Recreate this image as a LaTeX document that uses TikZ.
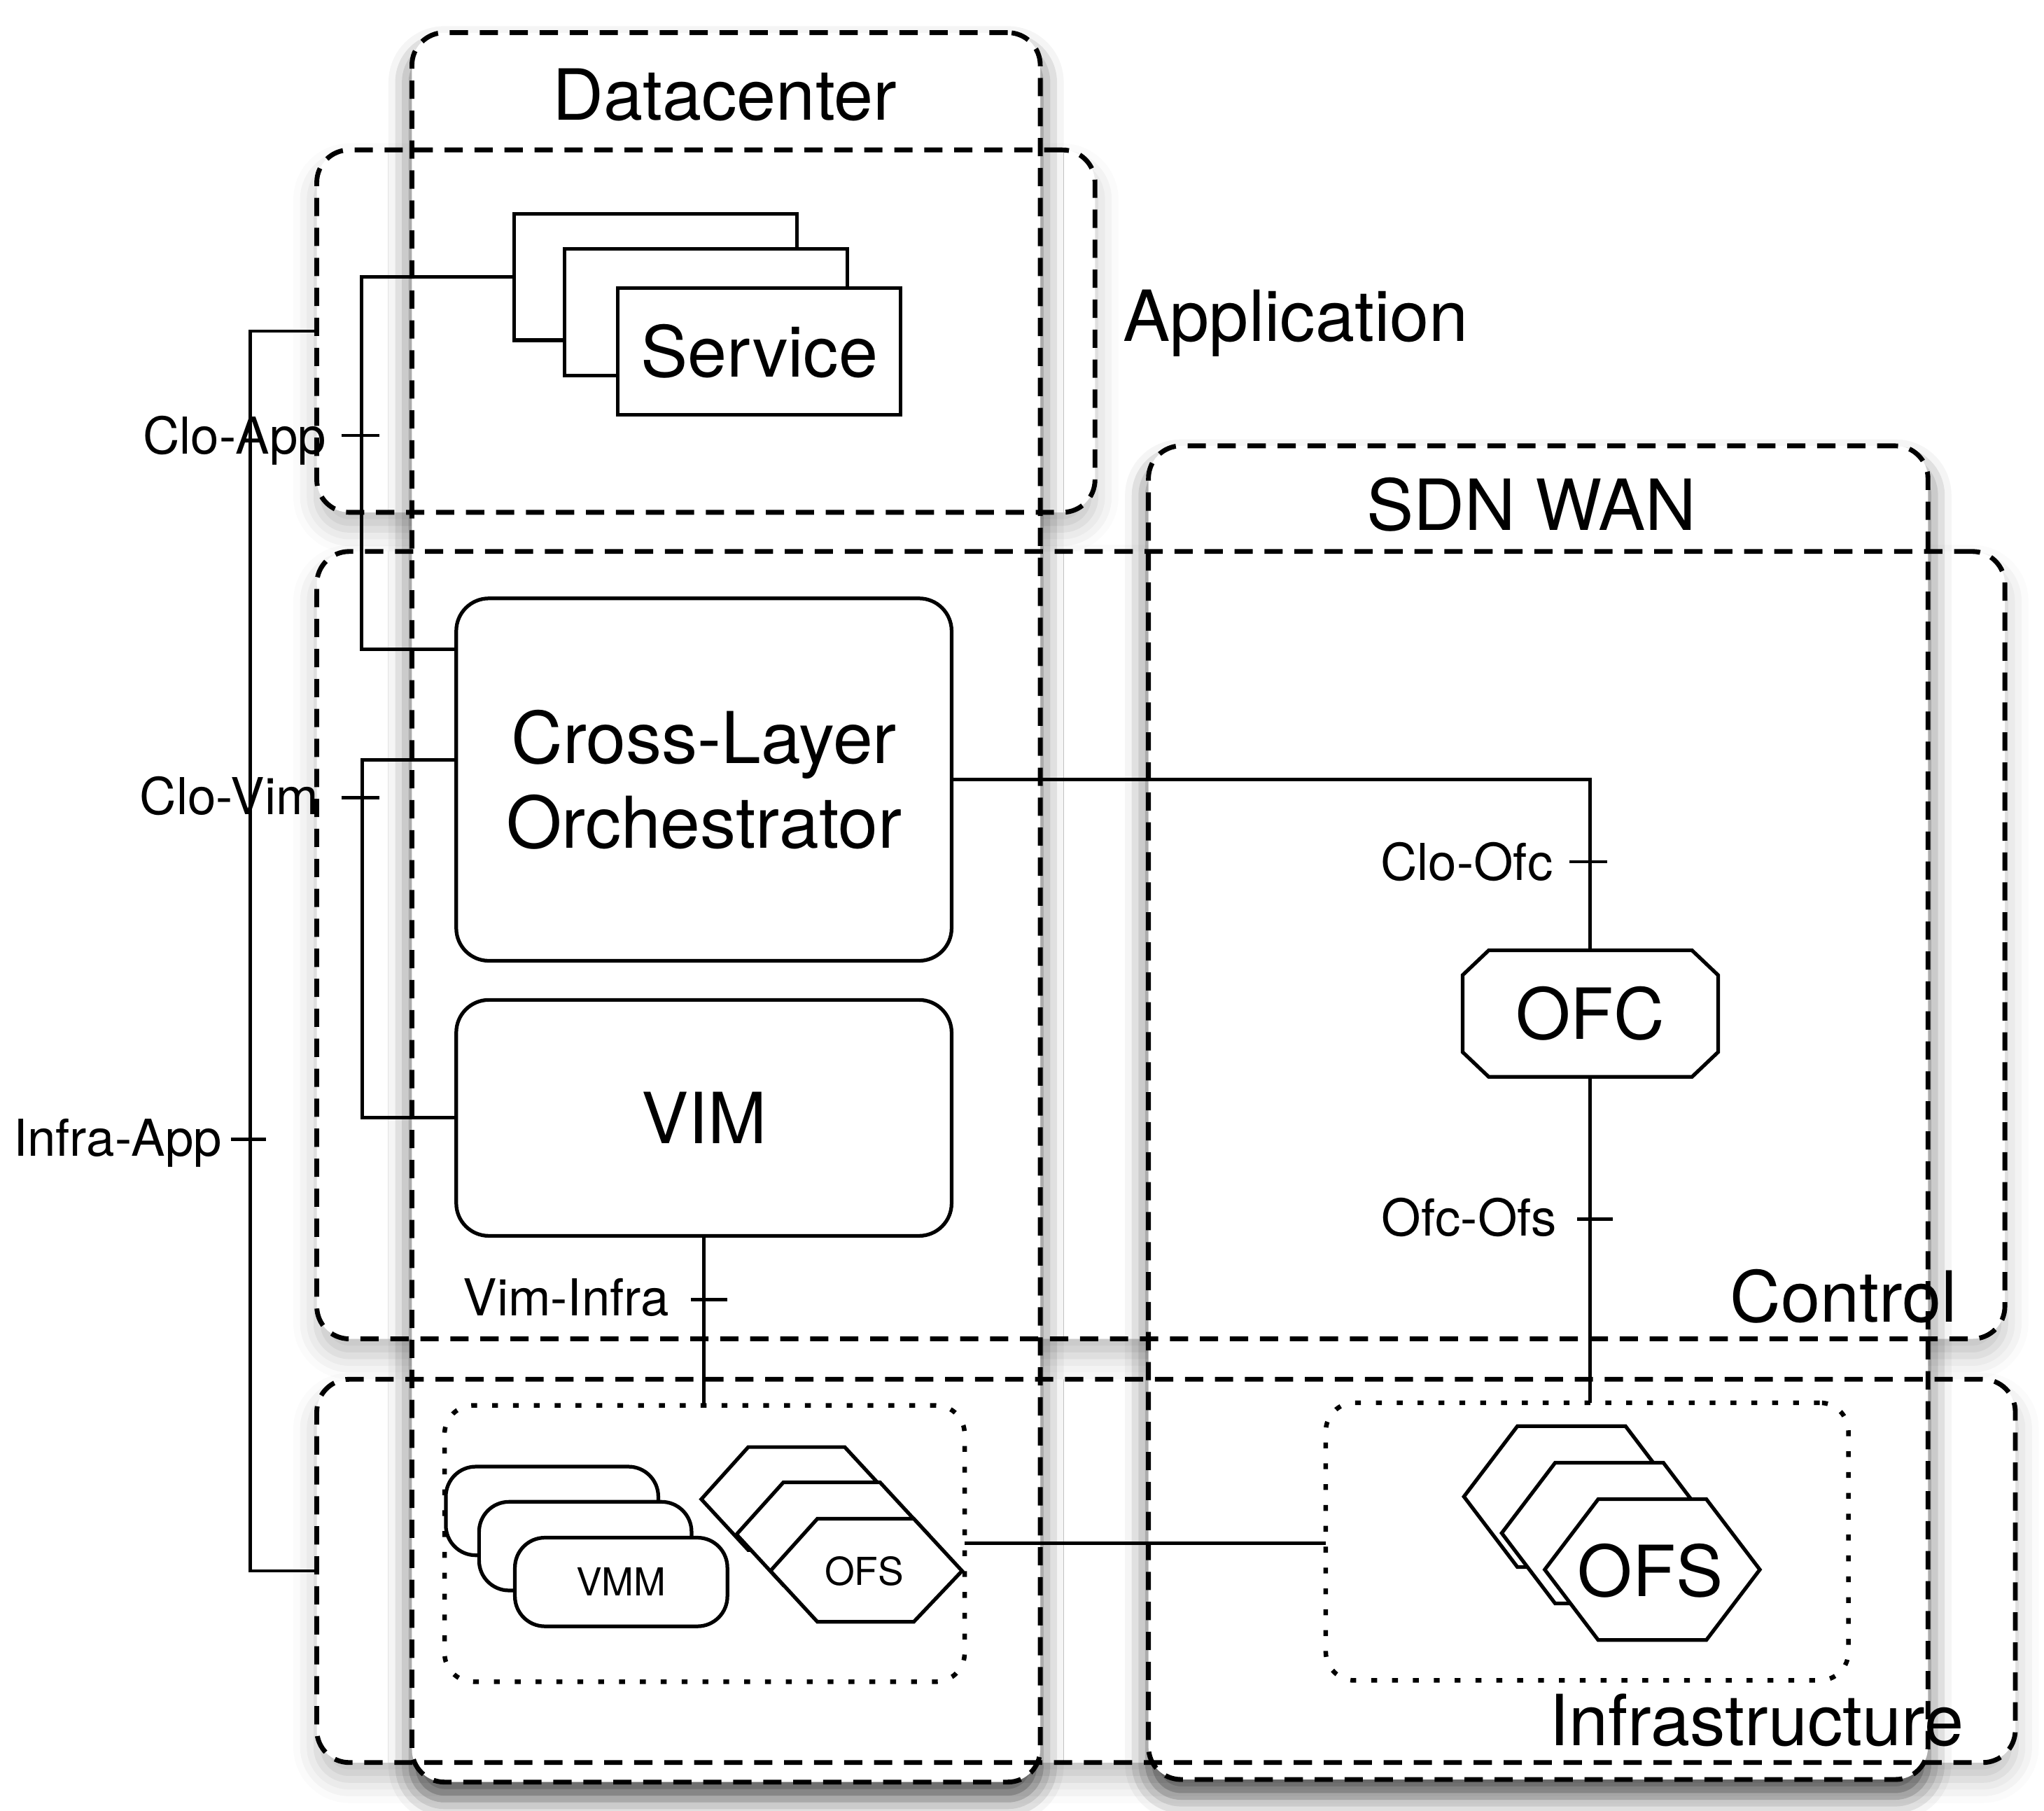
\documentclass[tikz,border=0pt]{standalone}
\usepackage{fontspec}
\setmainfont{TeX Gyre Heros}
\usepackage{tikz}
\usetikzlibrary{shadows.blur,backgrounds}

\begin{document}
\begin{tikzpicture}[x=0.1mm,y=-0.1mm,
  zone/.style={draw,line width=1.05pt,dash pattern=on 1.4mm off 0.9mm,rounded corners=2.5mm,inner sep=0,outer sep=0},
  zonebg/.style={fill=white,rounded corners=2.5mm,blur shadow={shadow xshift=0mm,shadow yshift=-1.3mm,shadow blur radius=1.8mm,shadow opacity=#1}},
  zonebg/.default=40,
  pool/.style={draw,line width=1pt,dash pattern=on 0.45mm off 1.15mm,rounded corners=2.2mm,inner sep=0,outer sep=0},
  box/.style={draw,fill=white,line width=0.8pt,inner sep=0,outer sep=0},
  hexa/.style={draw,fill=white,line width=0.8pt},
  wire/.style={line width=0.75pt},
  big/.style={font=\fontsize{15.4}{18.5}\selectfont,inner sep=0},
  lbl/.style={font=\fontsize{11.1}{13}\selectfont,inner sep=0},
  tiny/.style={font=\fontsize{8.4}{10}\selectfont,inner sep=0}]
\useasboundingbox (0,0) rectangle (1568,1389);

\node[zone,minimum width=59.7mm,minimum height=27.8mm] (app) at (541.5,254) {};
\node[zone,minimum width=129.5mm,minimum height=60.4mm] (ctrl) at (890.5,725) {};
\node[zone,minimum width=130.3mm,minimum height=29.4mm] (infra) at (894.5,1205) {};
\node[zone,minimum width=48.2mm,minimum height=134.2mm] (dc) at (557,696) {};
\node[zone,minimum width=59.8mm,minimum height=102.3mm] (wan) at (1180,853.5) {};

\begin{scope}[on background layer]
\path[zonebg=25] (app.north west) rectangle (app.south east);
\path[zonebg=25] (ctrl.north west) rectangle (ctrl.south east);
\path[zonebg=25] (infra.north west) rectangle (infra.south east);
\path[zonebg=65] (dc.north west) rectangle (dc.south east);
\path[zonebg=65] (wan.north west) rectangle (wan.south east);
\end{scope}

\node[big,anchor=base] (dctitle) at (556,92) {Datacenter};
\node[big,anchor=base west] (apptitle) at (861,262) {Application};
\node[big,anchor=base] (wantitle) at (1175,407) {SDN WAN};
\node[big,anchor=base east] (ctrltitle) at (1502,1014) {Control};
\node[big,anchor=base east] (infratitle) at (1507,1339) {Infrastructure};

\node[box,minimum width=21.7mm,minimum height=9.7mm] (svcA) at (503,212.5) {};
\node[box,minimum width=21.7mm,minimum height=9.7mm] (svcB) at (541.5,239.5) {};
\node[box,big,minimum width=21.7mm,minimum height=9.7mm] (svc) at (582.5,269.5) {Service};

\node[box,rounded corners=2.5mm,minimum width=38mm,minimum height=27.8mm,align=center,font=\fontsize{15.6}{18.5}\selectfont] (clo) at (540,598) {Cross-Layer\\Orchestrator};
\node[box,big,rounded corners=2.5mm,minimum width=38mm,minimum height=18.1mm] (vim) at (540,857.5) {VIM};

\node[big,minimum width=19.6mm,minimum height=9.7mm,outer sep=0] (ofc) at (1220,777.5) {OFC};
\draw[box,fill=none] ([xshift=2mm]ofc.north west) -- ([xshift=-2mm]ofc.north east) -- ([yshift=-1.9mm]ofc.north east) -- ([yshift=1.9mm]ofc.south east) -- ([xshift=-2mm]ofc.south east) -- ([xshift=2mm]ofc.south west) -- ([yshift=1.9mm]ofc.south west) -- ([yshift=-1.9mm]ofc.north west) -- cycle;

\node[pool,minimum width=39.9mm,minimum height=21.2mm] (dcin) at (540.5,1184) {};
\node[pool,minimum width=40.1mm,minimum height=21.3mm] (wanin) at (1217.5,1182.5) {};

\node[box,rounded corners=2.3mm,minimum width=16.3mm,minimum height=6.8mm] (vmmA) at (423.5,1159) {};
\node[box,rounded corners=2.3mm,minimum width=16.3mm,minimum height=6.8mm] (vmmB) at (449,1186) {};
\node[box,tiny,rounded corners=2.3mm,minimum width=16.3mm,minimum height=6.8mm] (vmm) at (476.5,1213.5) {VMM};

\path[hexa] (538,1150) -- ++(36,-40) -- ++(74,0) -- ++(37,40) -- ++(-37,39) -- ++(-74,0) -- cycle;
\path[hexa] (565,1177) -- ++(36,-40) -- ++(74,0) -- ++(37,40) -- ++(-37,39) -- ++(-74,0) -- cycle;
\path[hexa] (591,1205) -- ++(36,-40) -- ++(74,0) -- ++(37,40) -- ++(-37,39) -- ++(-74,0) -- cycle;
\node[tiny] (ofsa) at (663,1205) {OFS};

\path[hexa] (1123,1148) -- ++(41,-54) -- ++(83,0) -- ++(41,54) -- ++(-41,54) -- ++(-83,0) -- cycle;
\path[hexa] (1152,1176) -- ++(41,-54) -- ++(83,0) -- ++(41,54) -- ++(-41,54) -- ++(-83,0) -- cycle;
\path[hexa] (1185,1204) -- ++(41,-54) -- ++(83,0) -- ++(41,54) -- ++(-41,54) -- ++(-83,0) -- cycle;
\node[big] (ofsb) at (1266,1205) {OFS};

\draw[wire] (svcA.west) -- ++(-117,0) |- ([yshift=10mm]clo.west);
\draw[wire] ([yshift=1.5mm]clo.west) -- ++(-72,0) |- (vim.west);
\draw[wire] (app.west) -- ++(-51,0) |- (infra.west);
\draw[wire] (vim.south) -- (vim.south |- dcin.north);
\draw[wire] (clo.east) -| (ofc.north);
\draw[wire] (ofc.south) -- (ofc.south |- wanin.north);
\draw[wire] (dcin.east) -- (dcin.east -| wanin.west);

\draw[wire] (262,334) -- (291,334);
\draw[wire] (262,612) -- (291,612);
\draw[wire] (177,874) -- (204,874);
\draw[wire] (530,997) -- (558,997);
\draw[wire] (1204,661) -- (1233,661);
\draw[wire] (1210,935) -- (1237,935);

\node[lbl,anchor=base east] (cloapp) at (251,348) {Clo-App};
\node[lbl,anchor=base east] (clovim) at (245,625) {Clo-Vim};
\node[lbl,anchor=base east] (infraapp) at (171,887) {Infra-App};
\node[lbl,anchor=base east] (viminfra) at (514,1009) {Vim-Infra};
\node[lbl,anchor=base east] (cloofc) at (1192,675) {Clo-Ofc};
\node[lbl,anchor=base east] (ofcofs) at (1195,948) {Ofc-Ofs};
\end{tikzpicture}
\end{document}
